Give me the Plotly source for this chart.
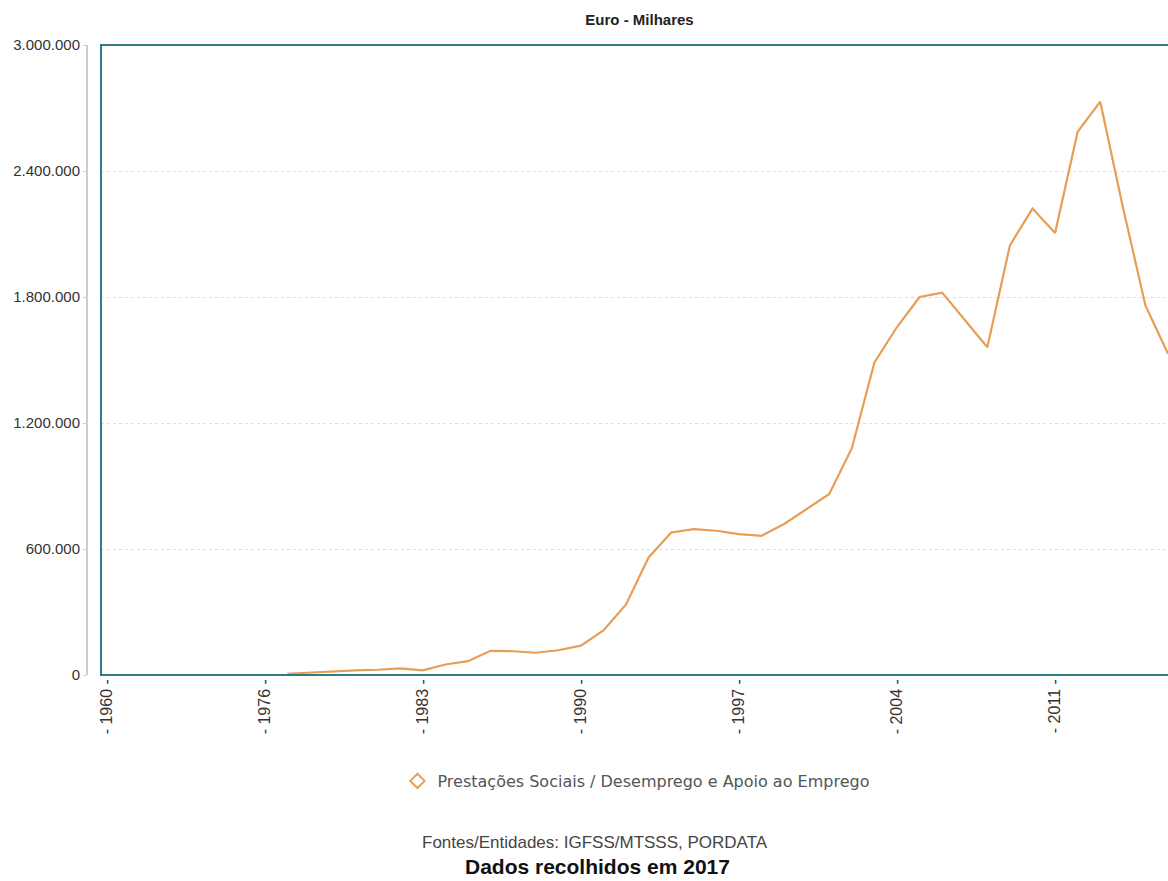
import plotly.graph_objects as go

# Categories (PORDATA style: 1960, then 1970..2016)
years = ["1960"] + [str(y) for y in range(1970, 2017)]

# Values (Euro - milhares), None where no data
values = [None] * 8 + [
    6000, 12000, 18000, 22000, 25000, 32000, 22000,      # 1977-1983
    50000, 66000, 115000, 113000, 106000, 118000, 140000,  # 1984-1990
    212000, 336000, 560000, 679000, 695000, 687000, 671000,  # 1991-1997
    663000, 719000, 790000, 862000, 1080000, 1488000, 1657000,  # 1998-2004
    1800000, 1821000, 1689000, 1561000, 2046000, 2221000, 2105000,  # 2005-2011
    2587000, 2730000, 2229000, 1760000, 1530000,  # 2012-2016
]

tick_years = ["1960", "1976", "1983", "1990", "1997", "2004", "2011"]
tick_labels = ["- " + y + " -" for y in tick_years]
y_ticks = [0, 600000, 1200000, 1800000, 2400000, 3000000]

series_name = "Prestações Sociais / Desemprego e Apoio ao Emprego"
line_color = "#E89D55"
teal = "#2E7C86"

# body margin is removed by post_script, so layout in window coordinates
W, H = 1168, 881
axis_x = 87
plot_left = 101
plot_top = 45
plot_bottom = 675
ml, mr, mt, mb = axis_x, 0, plot_top, H - plot_bottom
PW = W - ml - mr
PH = plot_bottom - plot_top
x_dom0 = (plot_left - axis_x) / PW


def px(xw):
    return (xw - ml) / PW


def py(yw):
    return (plot_bottom - yw) / PH


fig = go.Figure()
fig.add_trace(go.Scatter(
    x=years, y=values, mode="lines",
    line=dict(color=line_color, width=2.2),
    showlegend=False, connectgaps=False,
))
fig.add_trace(go.Scatter(
    x=[None], y=[None], mode="markers", name=series_name,
    marker=dict(symbol="diamond-open", size=11, color=line_color, line=dict(width=2, color=line_color)),
))

fig.update_layout(
    width=W, height=H,
    margin=dict(l=ml, r=mr, t=mt, b=mb),
    paper_bgcolor="white", plot_bgcolor="white",
    separators=",.",
    font=dict(family="Liberation Sans, Arial, sans-serif", color="#333"),
    title=dict(text="<b>Euro - Milhares</b>", x=639.5 / W, xanchor="center",
               y=1 - 20 / H, yanchor="middle", yref="container",
               font=dict(size=15, color="#222")),
    xaxis=dict(
        type="category", categoryorder="array", categoryarray=years,
        domain=[x_dom0, 1], range=[-0.25, 47.0],
        tickmode="array", tickvals=tick_years, ticktext=tick_labels,
        tickangle=-90, tickfont=dict(size=16, color="#333"),
        showgrid=False, zeroline=False, showline=False, ticks="",
    ),
    yaxis=dict(
        range=[0, 3000000], tickvals=y_ticks, tickformat=",d",
        anchor="free", position=0,
        showline=True, linecolor="#cccccc", linewidth=2,
        ticks="outside", ticklen=3, tickcolor="#cccccc",
        tickfont=dict(size=15, color="#333"),
        showgrid=True, gridcolor="#dddddd", griddash="dot", gridwidth=1,
        zeroline=False,
    ),
    legend=dict(orientation="h", x=px(636), xanchor="center",
                y=py(781), yanchor="middle", itemwidth=30,
                font=dict(family="DejaVu Sans, Verdana, sans-serif", size=16, color="#555")),
    shapes=[dict(type="rect", xref="x domain", yref="y domain", x0=0, x1=1.01, y0=0, y1=1,
                 line=dict(color=teal, width=2), layer="above")],
    annotations=[
        dict(text="Fontes/Entidades: IGFSS/MTSSS, PORDATA", xref="paper", yref="paper",
             x=px(595), y=py(842), xanchor="center", yanchor="middle",
             showarrow=False, font=dict(size=17, color="#444")),
        dict(text="<b>Dados recolhidos em 2017</b>", xref="paper", yref="paper",
             x=px(597), y=py(866), xanchor="center", yanchor="middle",
             showarrow=False, font=dict(size=21, color="#111")),
    ],
)

fig.write_html("out.html", config={"displayModeBar": False},
               post_script="document.body.style.margin='0';")
